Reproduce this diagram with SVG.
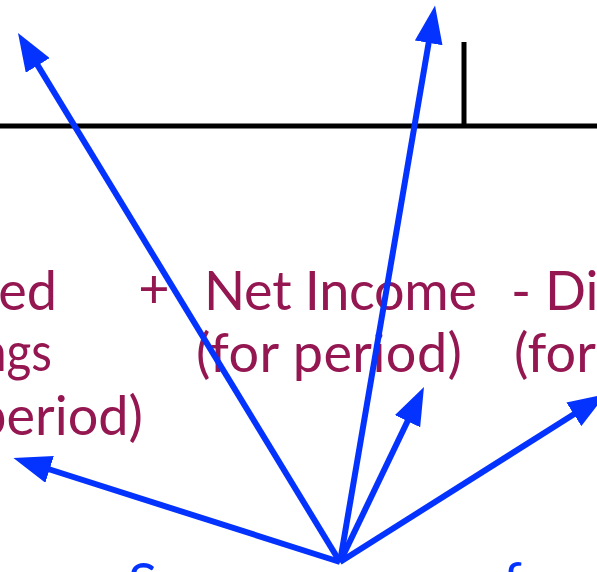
<svg xmlns="http://www.w3.org/2000/svg" width="597" height="572" viewBox="0 0 597 572">
<style>
.t{font-family:Lato,"Liberation Sans",sans-serif;font-size:54px;fill:#941751}
.b{font-family:Lato,"Liberation Sans",sans-serif;font-size:54px;fill:#0433FF}
.arr{stroke:#0433FF;stroke-width:6;fill:none;marker-end:url(#ah)}
.rule{stroke:#000;stroke-width:5;fill:none}
</style>
<defs>
<marker id="ah" viewBox="0 0 38 28" refX="8" refY="14" markerWidth="38" markerHeight="28" markerUnits="userSpaceOnUse" orient="auto">
<path d="M0,0 L38,14 L0,28 Z" fill="#0433FF"/>
</marker>
</defs>
<g id="top-fragments">
<text class="t" x="8" y="-9">p</text>
<text class="t" x="298" y="-10">(</text>
<text class="t" x="481" y="-9">p</text>
</g>
<g id="timeline">
<line class="rule" x1="0" y1="126" x2="597" y2="126"/>
<line class="rule" x1="464" y1="42" x2="464" y2="126"/>
</g>
<g id="retained-begin">
<text class="t" x="57" y="310" text-anchor="end">ed</text>
<text class="t" x="-20" y="371" textLength="72" lengthAdjust="spacingAndGlyphs">ngs</text>
<text class="t" x="143" y="435" text-anchor="end">period)</text>
</g>
<g id="plus">
<text class="t" x="154" y="308" text-anchor="middle">+</text>
</g>
<g id="net-income">
<text class="t" x="204" y="310" textLength="273" lengthAdjust="spacing">Net Income</text>
<text class="t" x="196" y="372" textLength="266" lengthAdjust="spacing">(for period)</text>
</g>
<g id="dividends">
<text class="t" x="511" y="310">- Di</text>
<text class="t" x="514" y="372">(for</text>
</g>
<g id="bottom-label">
<text class="b" x="128" y="602">S</text>
<text class="b" x="503" y="601">f</text>
</g>
<g id="connectors">
<line class="arr" x1="340" y1="562" x2="33.6" y2="58.6"/>
<line class="arr" x1="340" y1="562" x2="430" y2="35"/>
<line class="arr" x1="340" y1="562" x2="411" y2="414"/>
<line class="arr" x1="340" y1="562" x2="580.6" y2="410"/>
<line class="arr" x1="340" y1="562" x2="42" y2="467"/>
</g>
</svg>
